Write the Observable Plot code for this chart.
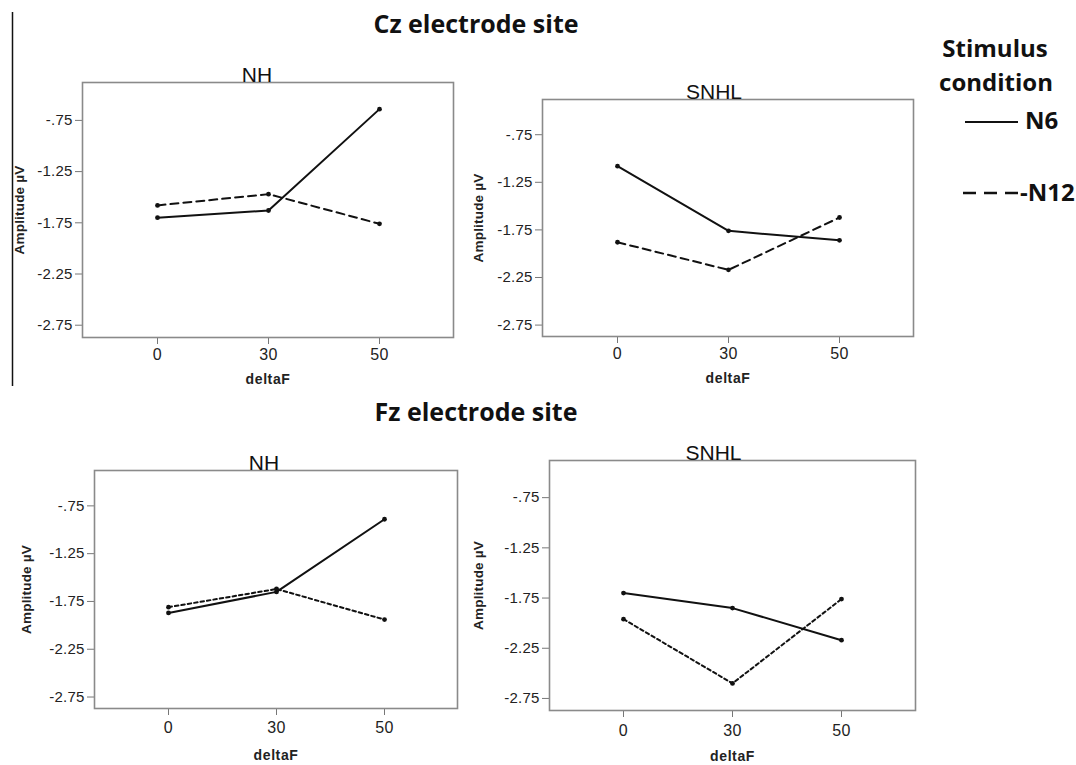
<!DOCTYPE html>
<html>
<head>
<meta charset="utf-8">
<script src="https://cdn.jsdelivr.net/npm/d3@7"></script>
<script src="https://cdn.jsdelivr.net/npm/@observablehq/plot@0.6"></script>
<style>
  body { margin: 0; background: #fff; }
  #root { position: relative; width: 1076px; height: 765px; overflow: hidden; background: #fff; }
  .panel { position: absolute; }
  .panel svg { overflow: visible; }
  [aria-label="y-axis label"] { font-weight: bold; font-size: 13.5px; letter-spacing: 0.2px; }
  [aria-label="x-axis label"] { font-weight: bold; font-size: 14px; letter-spacing: 0.6px; }
  [aria-label="y-axis tick label"] { font-size: 15px; letter-spacing: 0.2px; }
  [aria-label="x-axis tick label"] { font-size: 16px; letter-spacing: 0.4px; }
  #overlay { position: absolute; left: 0; top: 0; pointer-events: none; }
  #overlay text { font-family: "Open Sans", sans-serif; font-weight: 700; fill: #111; }
</style>
</head>
<body>
<div id="root"></div>
<script>
// ---- data ----
const deltaF = [0, 30, 50];
const conditions = ["N6", "N12"];
const yTicks = [-0.75, -1.25, -1.75, -2.25, -2.75];
const yDomain = [-2.87, -0.38];
const groups = ["NH", "SNHL"];
const sites = ["Cz electrode site", "Fz electrode site"];

const czNH_N6    = [-1.70, -1.63, -0.64];
const czNH_N12   = [-1.58, -1.47, -1.76];
const czSNHL_N6  = [-1.08, -1.76, -1.86];
const czSNHL_N12 = [-1.88, -2.17, -1.62];
const fzNH_N6    = [-1.87, -1.65, -0.89];
const fzNH_N12   = [-1.81, -1.62, -1.94];
const fzSNHL_N6  = [-1.70, -1.85, -2.17];
const fzSNHL_N12 = [-1.96, -2.60, -1.76];

// SPSS-style labels: "-.75", "-1.25"
const fmt = d => (d < 0 ? "-" : "") + Math.abs(d).toFixed(2).replace(/^0\./, ".");

const root = document.getElementById("root");

function panel(cfg) {
  const {n6, n12, title, dash, left, top, w, h, ml, mt, mr, mb, yOff, xOff, xPad, tdx} = cfg;
  const rows = [];
  deltaF.forEach((d, i) => {
    rows.push({deltaF: d, amp: n6[i], cond: conditions[0]});
    rows.push({deltaF: d, amp: n12[i], cond: conditions[1]});
  });
  const plot = Plot.plot({
    width: w, height: h,
    marginLeft: ml, marginTop: mt, marginRight: mr, marginBottom: mb,
    style: {fontFamily: "'Liberation Sans', Arial, sans-serif", fontSize: "13px", color: "#222", background: "transparent", overflow: "visible"},
    x: {type: "point", domain: deltaF, padding: 0.667},
    y: {domain: yDomain},
    marks: [
      Plot.axisX({ticks: deltaF, tickSize: 7, tickPadding: xPad, stroke: "#777",
        label: "deltaF", labelAnchor: "center", labelOffset: xOff, labelArrow: "none"}),
      Plot.axisY({ticks: yTicks, tickSize: 7, tickPadding: 3, tickFormat: fmt, stroke: "#777",
        label: "Amplitude µV", labelAnchor: "center", labelOffset: yOff, labelArrow: "none"}),
      Plot.frame({stroke: "#8a8a8a", strokeWidth: 1.6}),
      Plot.line(rows.filter(r => r.cond === conditions[0]), {x: "deltaF", y: "amp", stroke: "#111", strokeWidth: 2}),
      Plot.line(rows.filter(r => r.cond === conditions[1]), {x: "deltaF", y: "amp", stroke: "#111", strokeWidth: 2, strokeDasharray: dash}),
      Plot.dot(rows, {x: "deltaF", y: "amp", r: 2.4, fill: "#111"}),
      Plot.text([title], {text: d => d, frameAnchor: "top", lineAnchor: "bottom", dy: -1, dx: tdx,
        fontSize: 21, fill: "#111", fontFamily: "'Liberation Sans', Arial, sans-serif"})
    ]
  });
  const div = document.createElement("div");
  div.className = "panel";
  div.style.left = left + "px";
  div.style.top = top + "px";
  div.appendChild(plot);
  root.appendChild(div);
}

panel({n6: czNH_N6, n12: czNH_N12, title: groups[0], dash: "8,5",
  left: 0, top: 60, w: 470, h: 330, ml: 82, mt: 22, mr: 17, mb: 53, yOff: 68, xOff: 46, xPad: 4, tdx: -11});
panel({n6: czSNHL_N6, n12: czSNHL_N12, title: groups[1], dash: "8,5",
  left: 470, top: 60, w: 460, h: 330, ml: 72, mt: 39, mr: 17, mb: 54, yOff: 69, xOff: 46, xPad: 4, tdx: -14});
panel({n6: fzNH_N6, n12: fzNH_N12, title: groups[0], dash: "3.5,3",
  left: 0, top: 430, w: 470, h: 335, ml: 94, mt: 40, mr: 13, mb: 57, yOff: 73, xOff: 51, xPad: 6, tdx: -12});
panel({n6: fzSNHL_N6, n12: fzSNHL_N12, title: groups[1], dash: "3.5,3",
  left: 470, top: 430, w: 460, h: 335, ml: 79, mt: 30, mr: 15, mb: 55, yOff: 76, xOff: 50, xPad: 7, tdx: -19});

// ---- overlay: titles, legend, left rule ----
const ns = "http://www.w3.org/2000/svg";
const ov = document.createElementNS(ns, "svg");
ov.setAttribute("id", "overlay");
ov.setAttribute("width", 1076);
ov.setAttribute("height", 765);
root.appendChild(ov);
function txt(s, x, y, size, anchor) {
  const t = document.createElementNS(ns, "text");
  t.setAttribute("x", x); t.setAttribute("y", y);
  t.setAttribute("font-size", size);
  t.setAttribute("text-anchor", anchor || "start");
  t.textContent = s;
  ov.appendChild(t);
}
function ln(x1, y1, x2, y2, w, dash) {
  const l = document.createElementNS(ns, "line");
  l.setAttribute("x1", x1); l.setAttribute("y1", y1);
  l.setAttribute("x2", x2); l.setAttribute("y2", y2);
  l.setAttribute("stroke", "#111"); l.setAttribute("stroke-width", w);
  if (dash) l.setAttribute("stroke-dasharray", dash);
  ov.appendChild(l);
}
ln(12.5, 12, 12.5, 386, 1.5);
txt(sites[0], 476, 33, 25, "middle");
txt(sites[1], 476, 421, 25, "middle");
txt("Stimulus", 995, 57, 24, "middle");
txt("condition", 996, 91, 24, "middle");
ln(965, 122, 1018, 122, 2.2);
txt(conditions[0], 1025, 129, 24);
ln(963, 193, 1018, 193, 2.5, "13,8");
txt("-" + conditions[1], 1020, 201, 24);
</script>
</body>
</html>
